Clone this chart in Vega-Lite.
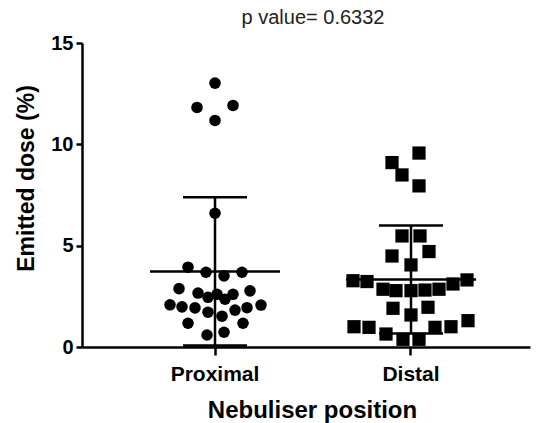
{
  "$schema": "https://vega.github.io/schema/vega-lite/v6.json",
  "width": 448,
  "height": 304,
  "autosize": {"type": "none"},
  "padding": {"left": 82, "top": 43, "right": 8, "bottom": 76},
  "background": "white",
  "config": {"view": {"stroke": null}, "font": "Liberation Sans"},
  "title": {"text": "p value= 0.6332", "fontSize": 20, "fontWeight": "normal", "color": "#222222", "anchor": "middle", "baseline": "alphabetic", "offset": -11, "dx": 7},
  "datasets": {
    "pts": [
      {"group": "Proximal", "value": 13.02, "jitter": 0},
      {"group": "Proximal", "value": 11.82, "jitter": -18},
      {"group": "Proximal", "value": 11.92, "jitter": 18},
      {"group": "Proximal", "value": 11.18, "jitter": 0},
      {"group": "Proximal", "value": 6.6, "jitter": 0},
      {"group": "Proximal", "value": 3.94, "jitter": -27},
      {"group": "Proximal", "value": 3.69, "jitter": -9},
      {"group": "Proximal", "value": 3.51, "jitter": 9},
      {"group": "Proximal", "value": 3.69, "jitter": 27},
      {"group": "Proximal", "value": 2.88, "jitter": -36},
      {"group": "Proximal", "value": 2.66, "jitter": -17},
      {"group": "Proximal", "value": 2.45, "jitter": -7},
      {"group": "Proximal", "value": 2.6, "jitter": 2},
      {"group": "Proximal", "value": 2.36, "jitter": 10},
      {"group": "Proximal", "value": 2.6, "jitter": 18},
      {"group": "Proximal", "value": 2.77, "jitter": 35},
      {"group": "Proximal", "value": 2.08, "jitter": -45},
      {"group": "Proximal", "value": 1.98, "jitter": -33},
      {"group": "Proximal", "value": 1.93, "jitter": -20},
      {"group": "Proximal", "value": 1.72, "jitter": -7},
      {"group": "Proximal", "value": 1.52, "jitter": 7},
      {"group": "Proximal", "value": 1.82, "jitter": 20},
      {"group": "Proximal", "value": 1.94, "jitter": 32},
      {"group": "Proximal", "value": 2.07, "jitter": 46},
      {"group": "Proximal", "value": 1.17, "jitter": -27},
      {"group": "Proximal", "value": 1.17, "jitter": 28},
      {"group": "Proximal", "value": 0.59, "jitter": -8},
      {"group": "Proximal", "value": 0.73, "jitter": 9},
      {"group": "Distal", "value": 9.57, "jitter": 8},
      {"group": "Distal", "value": 9.1, "jitter": -19},
      {"group": "Distal", "value": 8.49, "jitter": -9},
      {"group": "Distal", "value": 7.95, "jitter": 8},
      {"group": "Distal", "value": 5.48, "jitter": -9},
      {"group": "Distal", "value": 5.48, "jitter": 9},
      {"group": "Distal", "value": 4.49, "jitter": -19},
      {"group": "Distal", "value": 4.71, "jitter": 18},
      {"group": "Distal", "value": 4.05, "jitter": 0},
      {"group": "Distal", "value": 3.27, "jitter": -58},
      {"group": "Distal", "value": 3.23, "jitter": -44},
      {"group": "Distal", "value": 2.85, "jitter": -28},
      {"group": "Distal", "value": 2.78, "jitter": -15},
      {"group": "Distal", "value": 2.78, "jitter": 0},
      {"group": "Distal", "value": 2.81, "jitter": 14},
      {"group": "Distal", "value": 2.85, "jitter": 28},
      {"group": "Distal", "value": 3.11, "jitter": 42},
      {"group": "Distal", "value": 3.31, "jitter": 56},
      {"group": "Distal", "value": 1.91, "jitter": -18},
      {"group": "Distal", "value": 1.96, "jitter": 17},
      {"group": "Distal", "value": 1.58, "jitter": 0},
      {"group": "Distal", "value": 1.0, "jitter": -57},
      {"group": "Distal", "value": 0.97, "jitter": -42},
      {"group": "Distal", "value": 0.64, "jitter": -25},
      {"group": "Distal", "value": 0.38, "jitter": -8},
      {"group": "Distal", "value": 0.38, "jitter": 8},
      {"group": "Distal", "value": 0.97, "jitter": 24},
      {"group": "Distal", "value": 1.0, "jitter": 40},
      {"group": "Distal", "value": 1.3, "jitter": 57}
    ],
    "stats": [
      {"group": "Proximal", "mean": 3.73, "lo": 0.07, "hi": 7.39},
      {"group": "Distal", "mean": 3.33, "lo": 0.67, "hi": 5.99}
    ]
  },
  "encoding": {
    "x": {
      "field": "group",
      "type": "nominal",
      "sort": ["Proximal", "Distal"],
      "scale": {"type": "band", "paddingInner": 0, "paddingOuter": 0.1429, "align": 0.625},
      "axis": {
        "title": "Nebuliser position",
        "labelAngle": 0,
        "labelFontSize": 21,
        "labelFontWeight": "bold",
        "labelColor": "black",
        "labelPadding": 8,
        "tickSize": 8,
        "tickWidth": 2.5,
        "tickColor": "black",
        "domainWidth": 2.5,
        "domainColor": "black",
        "titleFontSize": 24,
        "titleFontWeight": "bold",
        "titleColor": "black",
        "titlePadding": 14,
        "titleX": 230
      }
    }
  },
  "layer": [
    {
      "data": {"name": "stats"},
      "mark": {"type": "rule", "color": "black", "strokeWidth": 2.5},
      "encoding": {
        "y": {"field": "lo", "type": "quantitative"},
        "y2": {"field": "hi"}
      }
    },
    {
      "data": {"name": "stats"},
      "mark": {"type": "tick", "color": "black", "thickness": 2.5, "size": 130, "opacity": 1},
      "encoding": {"y": {"field": "mean", "type": "quantitative"}}
    },
    {
      "data": {"name": "stats"},
      "mark": {"type": "tick", "color": "black", "thickness": 2.5, "size": 64, "opacity": 1},
      "encoding": {"y": {"field": "hi", "type": "quantitative"}}
    },
    {
      "data": {"name": "stats"},
      "mark": {"type": "tick", "color": "black", "thickness": 2.5, "size": 64, "opacity": 1},
      "encoding": {"y": {"field": "lo", "type": "quantitative"}}
    },
    {
      "data": {"name": "pts"},
      "mark": {"type": "point", "filled": true, "color": "black", "opacity": 1},
      "encoding": {
        "xOffset": {"field": "jitter", "type": "quantitative", "scale": {"domain": [-98, 98], "nice": false, "zero": false}},
        "y": {
          "field": "value",
          "type": "quantitative",
          "scale": {"domain": [0, 15], "nice": false},
          "axis": {
            "title": "Emitted dose (%)",
            "values": [0, 5, 10, 15],
            "grid": false,
            "labelFontSize": 20,
            "labelFontWeight": "bold",
            "labelColor": "black",
            "labelPadding": 3,
            "tickSize": 6,
            "tickWidth": 2.5,
            "tickColor": "black",
            "domainWidth": 2.5,
            "domainColor": "black",
            "titleFontSize": 23,
            "titleFontWeight": "bold",
            "titleColor": "black",
            "titleAngle": -90,
            "titleAlign": "center",
            "titleBaseline": "middle",
            "titleX": -56,
            "titleY": 135
          }
        },
        "shape": {"field": "group", "type": "nominal", "scale": {"domain": ["Proximal", "Distal"], "range": ["circle", "square"]}, "legend": null},
        "size": {"field": "group", "type": "ordinal", "scale": {"domain": ["Proximal", "Distal"], "range": [133, 175]}, "legend": null}
      }
    }
  ]
}
